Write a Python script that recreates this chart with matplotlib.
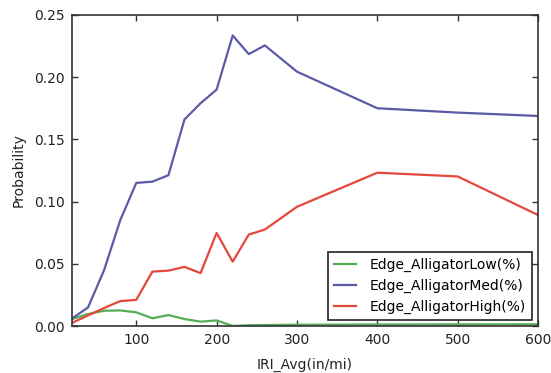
import matplotlib
matplotlib.use("Agg")
import matplotlib.pyplot as plt

# IRI bins (in/mi)
iri = [20, 40, 60, 80, 100, 120, 140, 160, 180, 200, 220, 240, 260, 300, 400, 500, 600]

# Probability of each edge alligator cracking severity
low = [0.0056, 0.0096, 0.0123, 0.0125, 0.0110, 0.0062, 0.0088, 0.0056, 0.0035, 0.0045,
       0.0000, 0.0006, 0.0008, 0.0010, 0.0012, 0.0013, 0.0014]
med = [0.0060, 0.0150, 0.0450, 0.0850, 0.1150, 0.1160, 0.1212, 0.1660, 0.1790, 0.1900,
       0.2335, 0.2185, 0.2255, 0.2044, 0.1750, 0.1715, 0.1688]
high = [0.0025, 0.0085, 0.0145, 0.0200, 0.0210, 0.0437, 0.0445, 0.0475, 0.0425, 0.0748,
        0.0517, 0.0735, 0.0775, 0.0958, 0.1232, 0.1202, 0.0892]

labels = ["Edge_AlligatorLow(%)", "Edge_AlligatorMed(%)", "Edge_AlligatorHigh(%)"]
colors = ["#55ad55", "#5b5aa8", "#e5473b"]

fig = plt.figure(figsize=(5.51, 3.73), dpi=100)
ax = fig.add_axes([0.1307, 0.126, 0.8457, 0.834])

for series, lab, col in zip([low, med, high], labels, colors):
    ax.plot(iri, series, color=col, lw=1.6, label=lab)

ax.set_xlim(20, 600)
ax.set_ylim(0, 0.25)
ax.set_xticks([100, 200, 300, 400, 500, 600])
ax.set_yticks([0.0, 0.05, 0.10, 0.15, 0.20, 0.25])
ax.set_yticklabels(["0.00", "0.05", "0.10", "0.15", "0.20", "0.25"])
ax.tick_params(direction="in", top=True, right=True, length=4, width=1,
               labelsize=10, colors="#333333", labelcolor="#222222", pad=5)
for sp in ax.spines.values():
    sp.set_color("#333333")
    sp.set_linewidth(1.2)

ax.set_xlabel("IRI_Avg(in/mi)", fontsize=10, color="#222222", labelpad=8)
ax.set_ylabel("Probability", fontsize=10, color="#222222", labelpad=6)

leg = ax.legend(loc="lower right", fontsize=10, fancybox=False, framealpha=1,
                edgecolor="#222222", handlelength=1.6, handletextpad=1.0,
                borderpad=0.45, labelspacing=0.5, borderaxespad=0.4)
leg.get_frame().set_linewidth(1.2)

fig.savefig("out.png", dpi=100)
